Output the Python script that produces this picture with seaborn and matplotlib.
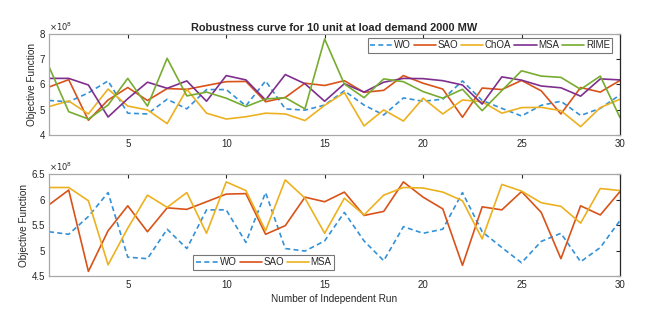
import numpy as np
import pandas as pd
import matplotlib
matplotlib.use("Agg")
import matplotlib.pyplot as plt
import seaborn as sns

runs = list(range(1, 31))
wo = [5.37, 5.32, 5.67, 6.14, 4.87, 4.84, 5.42, 5.04, 5.80, 5.80,
      5.16, 6.14, 5.04, 4.99, 5.19, 5.75, 5.19, 4.80, 5.47, 5.34,
      5.42, 6.14, 5.37, 5.06, 4.76, 5.18, 5.34, 4.78, 5.06, 5.59]
sao = [5.90, 6.19, 4.59, 5.39, 5.88, 5.37, 5.84, 5.81, 5.96, 6.11,
       6.12, 5.32, 5.49, 6.05, 5.96, 6.15, 5.69, 5.77, 6.35, 6.05,
       5.82, 4.71, 5.86, 5.80, 6.16, 5.75, 4.84, 5.88, 5.70, 6.16]
choa = [5.13, 5.35, 4.84, 5.82, 5.15, 5.00, 4.46, 5.81, 4.87, 4.64,
        4.73, 4.87, 4.84, 4.58, 5.18, 5.68, 4.37, 5.00, 4.56, 5.46,
        4.84, 5.39, 5.32, 4.87, 5.09, 5.10, 4.97, 4.34, 5.09, 5.42]
msa = [6.24, 6.24, 5.98, 4.72, 5.44, 6.09, 5.85, 6.14, 5.34, 6.35,
       6.18, 5.39, 6.39, 6.03, 5.34, 6.03, 5.70, 6.09, 6.24, 6.23,
       6.15, 5.98, 5.23, 6.30, 6.17, 5.94, 5.87, 5.54, 6.22, 6.18]
rime = [6.70, 4.93, 4.64, 5.19, 6.24, 5.15, 7.03, 5.55, 5.70, 5.46,
        5.13, 5.43, 5.48, 5.04, 7.79, 6.02, 5.48, 6.22, 6.11, 5.72,
        5.46, 5.81, 4.97, 5.76, 6.54, 6.33, 6.28, 5.81, 6.33, 4.70]

top_series = {"WO": wo, "SAO": sao, "ChOA": choa, "MSA": msa, "RIME": rime}
top_colors = {"WO": "#3391d8", "SAO": "#d95319", "ChOA": "#edb120",
              "MSA": "#7e2f8e", "RIME": "#77ac30"}
bot_series = {"WO": wo, "SAO": sao, "MSA": msa}
bot_colors = {"WO": "#3391d8", "SAO": "#d95319", "MSA": "#edb120"}

sns.set_style("white")
plt.rcParams["font.family"] = ["Liberation Sans", "DejaVu Sans"]

fig = plt.figure(figsize=(6.65, 3.26), dpi=100)
ax1 = fig.add_axes([0.0737, 0.585, 0.8586, 0.3117])
ax2 = fig.add_axes([0.0737, 0.1534, 0.8586, 0.312])

def long_df(series):
    rows = []
    for name, vals in series.items():
        for r, v in zip(runs, vals):
            rows.append({"Run": r, "Value": v * 1e8, "Algo": name})
    return pd.DataFrame(rows)

def style_axes(ax, ylim, yticks, yticklabels):
    ax.set_xlim(1, 30)
    ax.set_ylim(*ylim)
    ax.set_xticks([5, 10, 15, 20, 25, 30])
    ax.set_xticklabels(["5", "10", "15", "20", "25", "30"])
    ax.set_yticks(yticks)
    ax.set_yticklabels(yticklabels)
    ax.tick_params(axis="both", direction="in", length=3, width=0.8,
                   labelsize=7, colors="#262626", top=True, right=True, pad=3)
    for s in ["top", "left", "bottom"]:
        ax.spines[s].set_color("#a8a8a8")
        ax.spines[s].set_linewidth(0.9)
    ax.spines["right"].set_color("#262626")
    ax.spines["right"].set_linewidth(0.9)
    ax.set_ylabel("Objective Function", fontsize=7.2, color="#262626", labelpad=2)
    ax.set_xlabel("")
    ax.grid(False)

df1 = long_df(top_series)
sns.lineplot(data=df1, x="Run", y="Value", hue="Algo", style="Algo",
             palette=top_colors,
             dashes={"WO": (3, 2), "SAO": "", "ChOA": "", "MSA": "", "RIME": ""},
             linewidth=1.2, ax=ax1)
style_axes(ax1, (4e8, 8e8), [4e8, 5e8, 6e8, 7e8, 8e8], ["4", "5", "6", "7", "8"])
ax1.set_title("Robustness curve for 10 unit at load demand 2000 MW",
              fontsize=7.9, fontweight="bold", pad=2)
ax1.text(0.0, 1.01, r"$\times10^{8}$", transform=ax1.transAxes, fontsize=6,
         color="#262626", va="bottom", ha="left")
leg1 = ax1.legend(loc="upper right", ncol=5, fontsize=7, frameon=True,
                  handlelength=2.3, columnspacing=0.3, handletextpad=0.15,
                  borderpad=0.25, borderaxespad=0.2, fancybox=False,
                  bbox_to_anchor=(0.99, 0.98))
leg1.get_frame().set_edgecolor("#555555")
leg1.get_frame().set_linewidth(0.8)

df2 = long_df(bot_series)
sns.lineplot(data=df2, x="Run", y="Value", hue="Algo", style="Algo",
             palette=bot_colors,
             dashes={"WO": (3, 2), "SAO": "", "MSA": ""},
             linewidth=1.2, ax=ax2)
style_axes(ax2, (4.5e8, 6.5e8), [4.5e8, 5e8, 5.5e8, 6e8, 6.5e8],
           ["4.5", "5", "5.5", "6", "6.5"])
ax2.set_xlabel("Number of Independent Run", fontsize=7.2, color="#262626", labelpad=3)
ax2.text(0.0, 1.01, r"$\times10^{8}$", transform=ax2.transAxes, fontsize=6,
         color="#262626", va="bottom", ha="left")
leg2 = ax2.legend(loc="lower left", ncol=3, fontsize=7, frameon=True,
                  handlelength=2.3, columnspacing=0.3, handletextpad=0.15,
                  borderpad=0.25, borderaxespad=0.0, fancybox=False,
                  bbox_to_anchor=(0.253, 0.06))
leg2.get_frame().set_edgecolor("#555555")
leg2.get_frame().set_linewidth(0.8)

fig.savefig("out.png", dpi=100)
